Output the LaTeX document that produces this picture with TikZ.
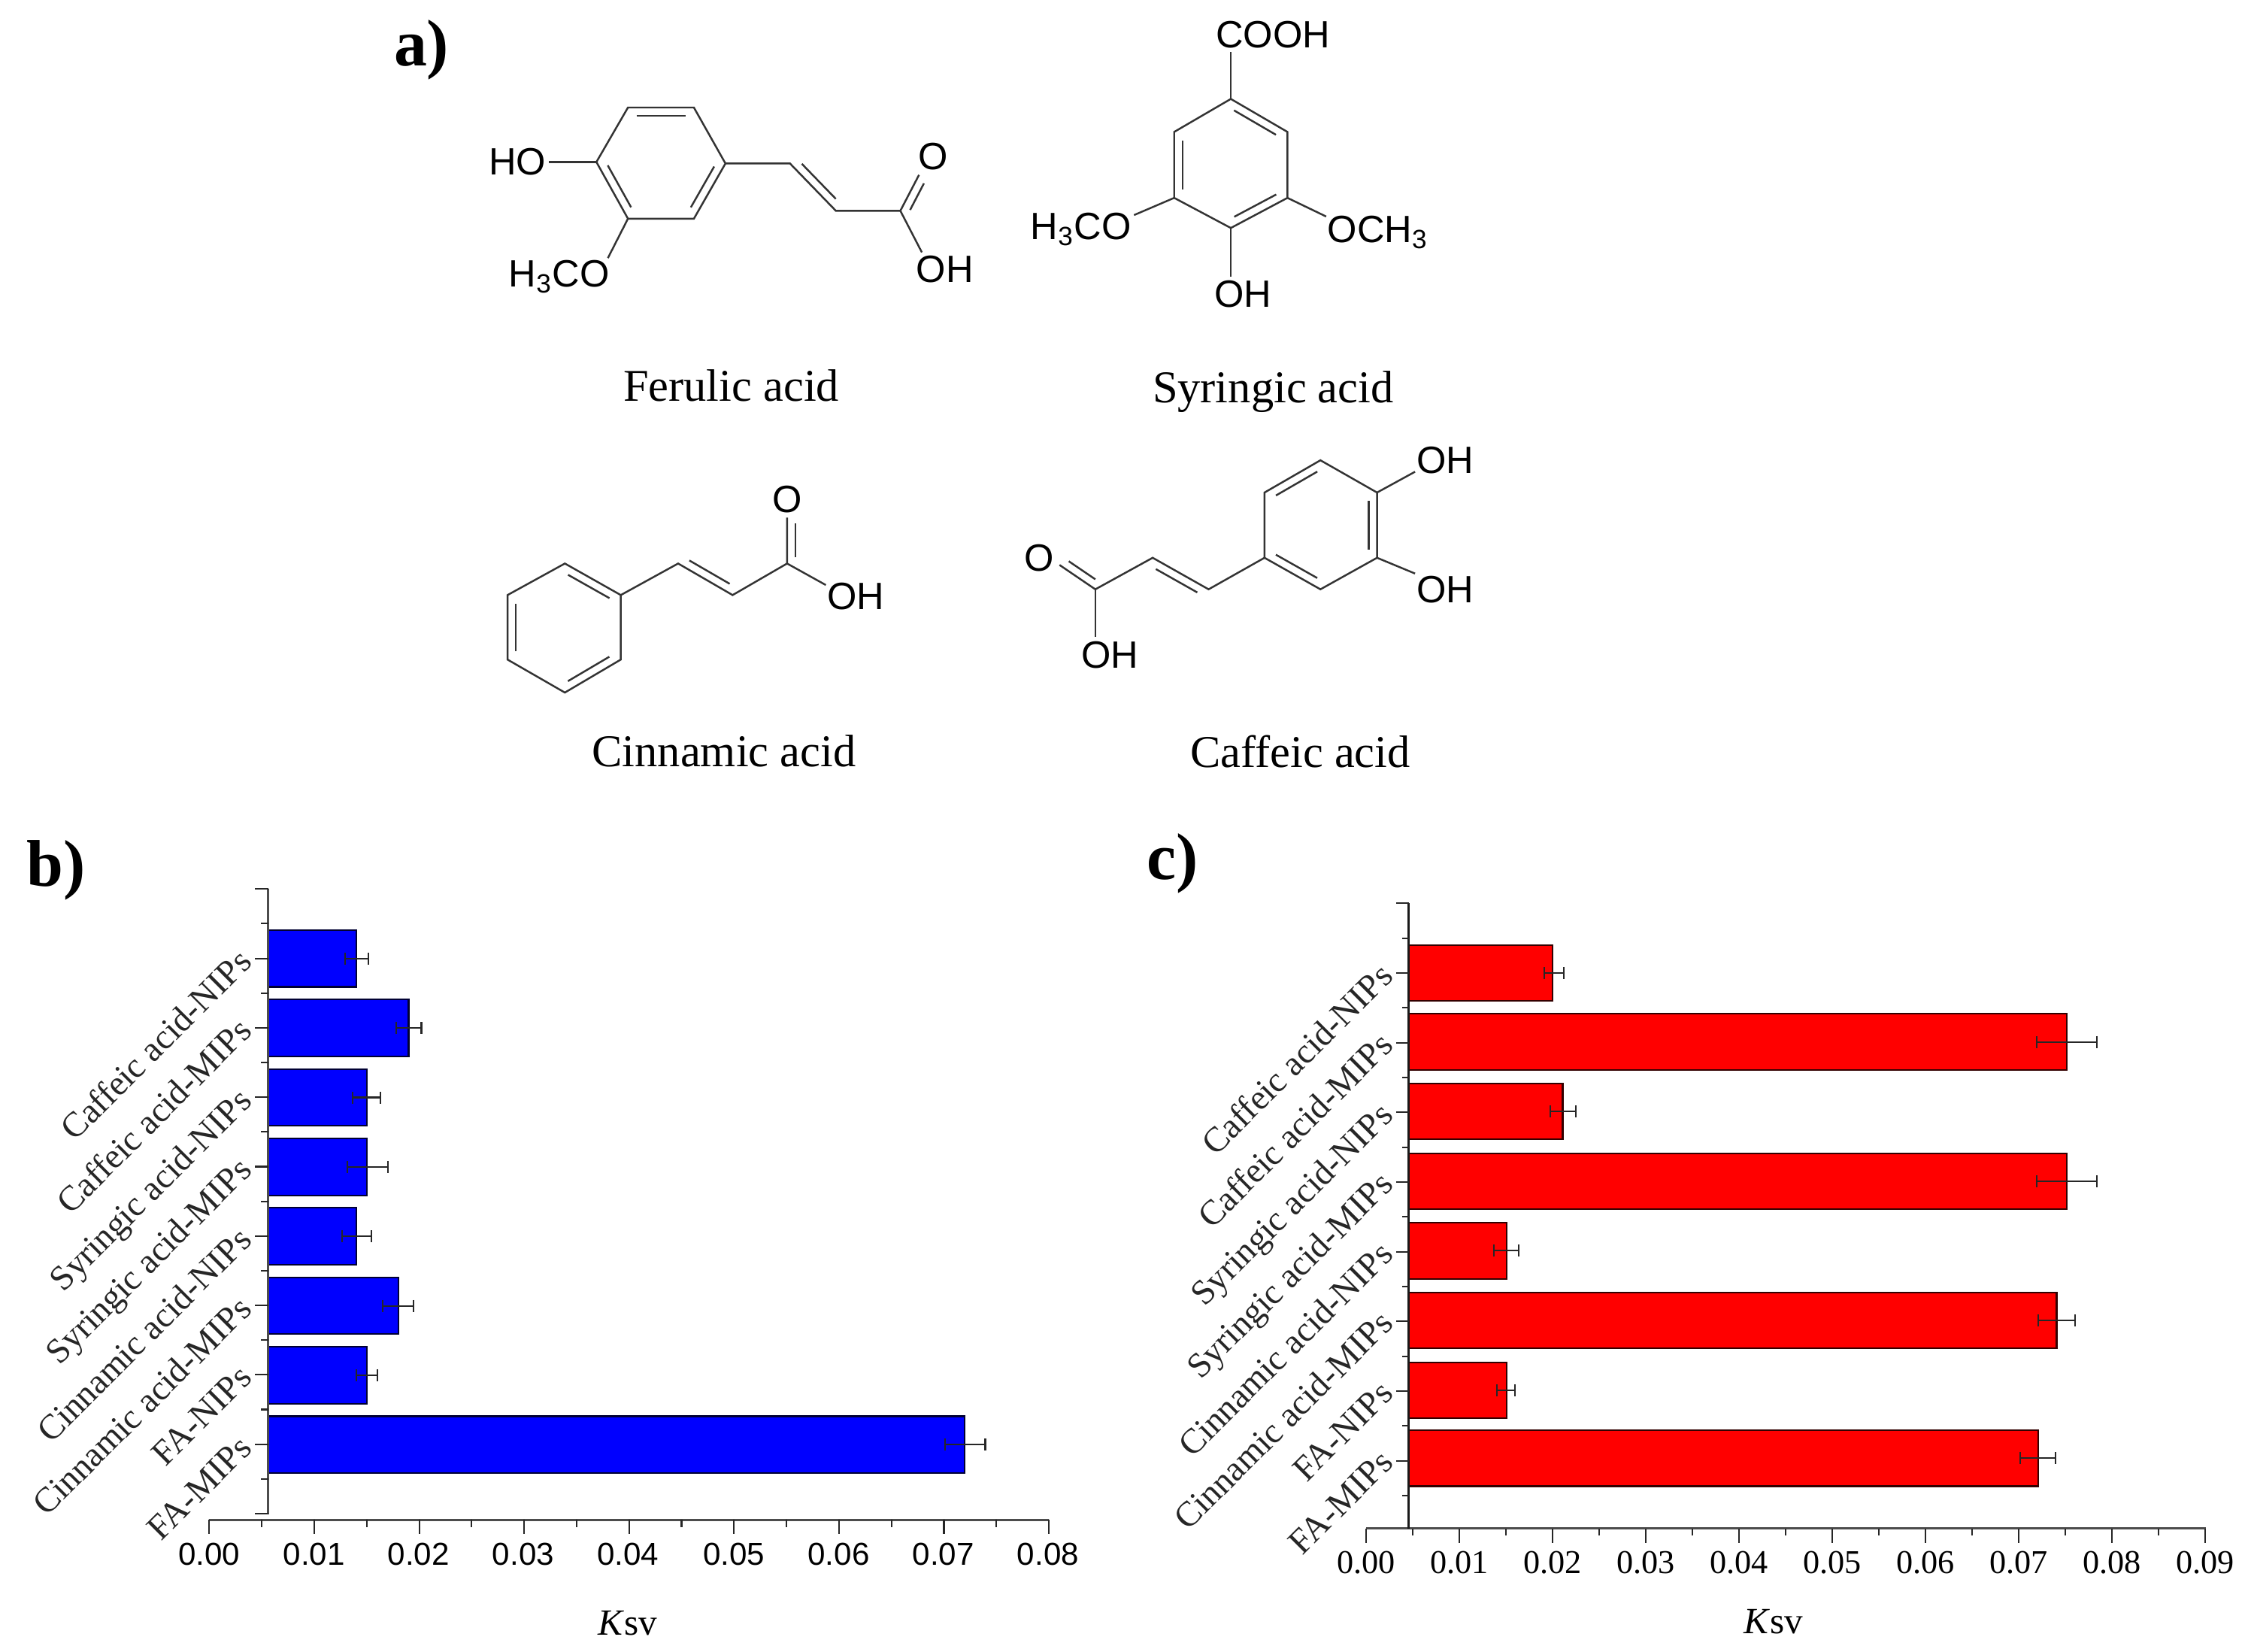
\documentclass[tikz,border=0pt]{standalone}
\usepackage{fontspec}
\setmainfont{Liberation Serif}
\setsansfont{Liberation Sans}
\usetikzlibrary{calc,arrows.meta}
\newcommand{\dbl}[2]{\draw[bond] ($(#1)!.13!(#2)!.11cm!-90:(#2)$) -- ($(#2)!.13!(#1)!.11cm!90:(#1)$);}
\tikzset{
    bond/.style={line width=.7pt, black!80},
    atom/.style={inner sep=0pt, font=\sffamily\fontsize{14.4}{16}\selectfont},
    molname/.style={inner sep=0pt, font=\fontsize{17.2}{20}\selectfont},
    panel/.style={inner sep=0pt, font=\bfseries\fontsize{25}{28}\selectfont},
    category/.style={inner sep=0pt, anchor=base east, rotate=45, black!85, font=\fontsize{13.3}{16}\selectfont},
    ticksans/.style={inner sep=0pt, font=\sffamily\fontsize{12}{14}\selectfont},
    tickserif/.style={inner sep=0pt, font=\fontsize{12.6}{14}\selectfont},
    axistitle/.style={inner sep=0pt, font=\fontsize{14}{16}\selectfont},
    axisline/.style={line width=.8pt, black!70},
    tickline/.style={line width=.6pt, black!85},
    bluebar/.style={fill=blue, draw=black!80!blue, line width=.6pt},
    redbar/.style={fill=red, draw=black!80!red, line width=.6pt},
    errbar/.style={line width=.6pt, black!85, {Bar[width=.16cm]}-{Bar[width=.16cm]}}
}
\begin{document}
\begin{tikzpicture}[x=0.01907cm, y=-0.01907cm]
    \useasboundingbox (0,0) rectangle (1568,1152);

    % panel letters
    \node (panela) [panel] at (294,35) {a)};
    \node (panelb) [panel] at (39,607) {b)};
    \node (panelc) [panel] at (818,602) {c)};

    % ferulic acid
    \coordinate (fe1) at (438,75);
    \coordinate (fe2) at (484,75);
    \coordinate (fe3) at (506,114);
    \coordinate (fe4) at (484,152.5);
    \coordinate (fe5) at (438,152.5);
    \coordinate (fe6) at (416,113);
    \coordinate (fe7) at (551,114);
    \coordinate (fe8) at (583,147);
    \coordinate (fe9) at (628,147);
    \coordinate (feo) at (641,122);
    \coordinate (feoh) at (643,176);
    \coordinate (feho) at (383,113);
    \coordinate (feme) at (424,180);
    \node (ferHO) [atom] at (361,113) {HO};
    \node (ferMeO) [atom] at (390,193) {H\textsubscript{3}CO};
    \node (ferO) [atom] at (651,109) {O};
    \node (ferOH) [atom] at (659,188) {OH};
    \node (fername) [molname] at (510,269) {Ferulic acid};
    \draw[bond] (fe1) -- (fe2) -- (fe3) -- (fe4) -- (fe5) -- (fe6) -- cycle;
    \draw[bond] (fe3) -- (fe7) -- (fe8) -- (fe9) -- (feo);
    \draw[bond] (fe9) -- (feoh);
    \draw[bond] (fe6) -- (feho);
    \draw[bond] (fe5) -- (feme);
    \dbl{fe1}{fe2}
    \dbl{fe3}{fe4}
    \dbl{fe5}{fe6}
    \dbl{fe8}{fe7}
    \dbl{fe9}{feo}

    % syringic acid
    \coordinate (sy1) at (858.5,69);
    \coordinate (sy2) at (898,92);
    \coordinate (sy3) at (898,138);
    \coordinate (sy4) at (858.5,159);
    \coordinate (sy5) at (819,138);
    \coordinate (sy6) at (819,92);
    \coordinate (syco) at (858.5,36);
    \coordinate (syoh) at (858.5,193);
    \coordinate (syl) at (791,150);
    \coordinate (syr) at (925,151);
    \node (synCOOH) [atom] at (888,24) {COOH};
    \node (synOH) [atom] at (867,205) {OH};
    \node (synMeOl) [atom] at (754,160) {H\textsubscript{3}CO};
    \node (synMeOr) [atom] at (961,162) {OCH\textsubscript{3}};
    \node (synname) [molname] at (888,273) {Syringic acid};
    \draw[bond] (sy1) -- (sy2) -- (sy3) -- (sy4) -- (sy5) -- (sy6) -- cycle;
    \draw[bond] (sy1) -- (syco);
    \draw[bond] (sy4) -- (syoh);
    \draw[bond] (sy5) -- (syl);
    \draw[bond] (sy3) -- (syr);
    \dbl{sy1}{sy2}
    \dbl{sy3}{sy4}
    \dbl{sy5}{sy6}

    % cinnamic acid
    \coordinate (ci1) at (394,393);
    \coordinate (ci2) at (433,415);
    \coordinate (ci3) at (433,460);
    \coordinate (ci4) at (394,483);
    \coordinate (ci5) at (354,460);
    \coordinate (ci6) at (354,415);
    \coordinate (ci7) at (473,393);
    \coordinate (ci8) at (511,415);
    \coordinate (ci9) at (549,393);
    \coordinate (cio) at (549,361);
    \coordinate (cioh) at (576,408);
    \node (cinO) [atom] at (549,348) {O};
    \node (cinOH) [atom] at (597,416) {OH};
    \node (cinname) [molname] at (505,524) {Cinnamic acid};
    \draw[bond] (ci1) -- (ci2) -- (ci3) -- (ci4) -- (ci5) -- (ci6) -- cycle;
    \draw[bond] (ci2) -- (ci7) -- (ci8) -- (ci9) -- (cio);
    \draw[bond] (ci9) -- (cioh);
    \dbl{ci1}{ci2}
    \dbl{ci3}{ci4}
    \dbl{ci5}{ci6}
    \dbl{ci8}{ci7}
    \dbl{ci9}{cio}

    % caffeic acid
    \coordinate (ca1) at (921,321);
    \coordinate (ca2) at (960.5,343.5);
    \coordinate (ca3) at (960.5,389);
    \coordinate (ca4) at (921,411);
    \coordinate (ca5) at (882,389);
    \coordinate (ca6) at (882,343.5);
    \coordinate (ca7) at (843,411);
    \coordinate (ca8) at (804,389);
    \coordinate (ca9) at (764,411);
    \coordinate (cao) at (739,394);
    \coordinate (caoh) at (764,444);
    \coordinate (caup) at (987,329);
    \coordinate (cadn) at (987,400);
    \node (cafOHup) [atom] at (1008,321) {OH};
    \node (cafOHdn) [atom] at (1008,411) {OH};
    \node (cafO) [atom] at (725,389) {O};
    \node (cafOH) [atom] at (774,457) {OH};
    \node (cafname) [molname] at (907,524) {Caffeic acid};
    \draw[bond] (ca1) -- (ca2) -- (ca3) -- (ca4) -- (ca5) -- (ca6) -- cycle;
    \draw[bond] (ca5) -- (ca7) -- (ca8) -- (ca9) -- (cao);
    \draw[bond] (ca9) -- (caoh);
    \draw[bond] (ca2) -- (caup);
    \draw[bond] (ca3) -- (cadn);
    \dbl{ca2}{ca3}
    \dbl{ca4}{ca5}
    \dbl{ca6}{ca1}
    \dbl{ca8}{ca7}
    \dbl{ca9}{cao}

    % blue chart
    \draw[bluebar] (187,648.7) rectangle (248.5,688.3);
    \draw[bluebar] (187,697.1) rectangle (285,736.7);
    \draw[bluebar] (187,745.6) rectangle (255.8,785.2);
    \draw[bluebar] (187,794) rectangle (255.8,833.6);
    \draw[bluebar] (187,842.4) rectangle (248.5,882);
    \draw[bluebar] (187,890.9) rectangle (277.8,930.5);
    \draw[bluebar] (187,939.3) rectangle (255.8,978.9);
    \draw[bluebar] (187,987.7) rectangle (673,1027.3);
    \draw[errbar] (240,668.5) -- (257.3,668.5);
    \draw[errbar] (276,716.9) -- (294.5,716.9);
    \draw[errbar] (245.6,765.4) -- (266,765.4);
    \draw[errbar] (241.6,813.8) -- (271,813.8);
    \draw[errbar] (238,862.2) -- (259.7,862.2);
    \draw[errbar] (266.4,910.7) -- (289,910.7);
    \draw[errbar] (248,959.1) -- (264,959.1);
    \draw[errbar] (658.6,1007.5) -- (687.8,1007.5);
    \draw[axisline] (146,1060) -- (731.3,1060);
    \draw[axisline] (187,620) -- (187,1056);
    \foreach \ypos in {620,668.4,...,1057} \draw[tickline] (178,\ypos) -- (187,\ypos);
    \foreach \ypos in {644.2,692.6,...,1045} \draw[tickline] (182,\ypos) -- (187,\ypos);
    \foreach \xpos in {146,219.2,...,732} \draw[tickline] (\xpos,1060) -- (\xpos,1070);
    \foreach \xpos in {182.6,255.8,...,700} \draw[tickline] (\xpos,1060) -- (\xpos,1065);
    \node (bx0) [ticksans] at (146,1084) {0.00};
    \node (bx1) [ticksans] at (219,1084) {0.01};
    \node (bx2) [ticksans] at (292,1084) {0.02};
    \node (bx3) [ticksans] at (365,1084) {0.03};
    \node (bx4) [ticksans] at (438,1084) {0.04};
    \node (bx5) [ticksans] at (512,1084) {0.05};
    \node (bx6) [ticksans] at (585,1084) {0.06};
    \node (bx7) [ticksans] at (658,1084) {0.07};
    \node (bx8) [ticksans] at (731,1084) {0.08};
    \node (btitle) [axistitle] at (438,1132) {\textit{K}sv};
    \node (bc1) [category] at (177,672) {Caffeic acid-NIPs};
    \node (bc2) [category] at (177,720) {Caffeic acid-MIPs};
    \node (bc3) [category] at (177,769) {Syringic acid-NIPs};
    \node (bc4) [category] at (177,817) {Syringic acid-MIPs};
    \node (bc5) [category] at (177,866) {Cinnamic acid-NIPs};
    \node (bc6) [category] at (177,914) {Cinnamic acid-MIPs};
    \node (bc7) [category] at (177,962) {FA-NIPs};
    \node (bc8) [category] at (177,1011) {FA-MIPs};

    % red chart
    \draw[redbar] (982.5,659) rectangle (1083,698);
    \draw[redbar] (982.5,707.1) rectangle (1441.5,746.1);
    \draw[redbar] (982.5,755.7) rectangle (1090,794.7);
    \draw[redbar] (982.5,804.3) rectangle (1441.5,843.3);
    \draw[redbar] (982.5,852.8) rectangle (1051,891.8);
    \draw[redbar] (982.5,901.4) rectangle (1434.5,940.4);
    \draw[redbar] (982.5,950) rectangle (1051,989);
    \draw[redbar] (982.5,997.5) rectangle (1421.5,1036.5);
    \draw[errbar] (1076.6,678.5) -- (1091.3,678.5);
    \draw[errbar] (1420,726.6) -- (1463,726.6);
    \draw[errbar] (1080.8,775.2) -- (1099.8,775.2);
    \draw[errbar] (1420,823.8) -- (1463,823.8);
    \draw[errbar] (1041.5,872.3) -- (1059.7,872.3);
    \draw[errbar] (1421,920.9) -- (1448,920.9);
    \draw[errbar] (1043.7,969.5) -- (1057,969.5);
    \draw[errbar] (1408.5,1017) -- (1434.5,1017);
    \draw[axisline] (953,1066) -- (1538.6,1066);
    \draw[line width=.8pt, black!90] (982.5,630) -- (982.5,1066);
    \foreach \ypos in {630,678.6,...,1060} \draw[tickline] (974,\ypos) -- (982.5,\ypos);
    \foreach \ypos in {654.3,702.9,...,1045} \draw[tickline] (978,\ypos) -- (982.5,\ypos);
    \foreach \xpos in {953,1018,...,1540} \draw[tickline] (\xpos,1066) -- (\xpos,1076);
    \foreach \xpos in {985.5,1050.5,...,1510} \draw[tickline] (\xpos,1066) -- (\xpos,1071);
    \node (cx0) [tickserif] at (953,1090) {0.00};
    \node (cx1) [tickserif] at (1018,1090) {0.01};
    \node (cx2) [tickserif] at (1083,1090) {0.02};
    \node (cx3) [tickserif] at (1148,1090) {0.03};
    \node (cx4) [tickserif] at (1213,1090) {0.04};
    \node (cx5) [tickserif] at (1278,1090) {0.05};
    \node (cx6) [tickserif] at (1343,1090) {0.06};
    \node (cx7) [tickserif] at (1408,1090) {0.07};
    \node (cx8) [tickserif] at (1473,1090) {0.08};
    \node (cx9) [tickserif] at (1538,1090) {0.09};
    \node (ctitle) [axistitle] at (1237,1131) {\textit{K}sv};
    \node (cc1) [category] at (973,682) {Caffeic acid-NIPs};
    \node (cc2) [category] at (973,730) {Caffeic acid-MIPs};
    \node (cc3) [category] at (973,779) {Syringic acid-NIPs};
    \node (cc4) [category] at (973,827) {Syringic acid-MIPs};
    \node (cc5) [category] at (973,876) {Cinnamic acid-NIPs};
    \node (cc6) [category] at (973,924) {Cinnamic acid-MIPs};
    \node (cc7) [category] at (973,973) {FA-NIPs};
    \node (cc8) [category] at (973,1021) {FA-MIPs};
\end{tikzpicture}
\end{document}
